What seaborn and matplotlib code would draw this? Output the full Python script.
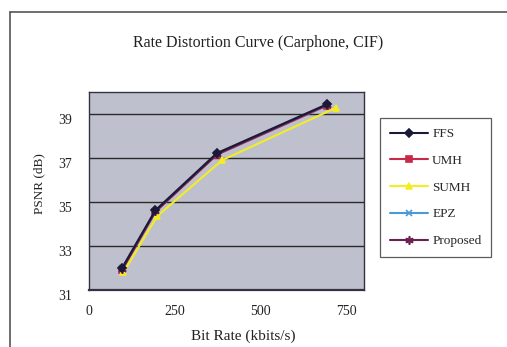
import matplotlib
matplotlib.use("Agg")
import matplotlib.pyplot as plt
from matplotlib.lines import Line2D
import seaborn as sns
import pandas as pd

# Bit rate (kbits/s) and PSNR (dB) per motion-estimation method
ffs_rate = [97, 193, 372, 692]
ffs_psnr = [32.02, 34.62, 37.22, 39.44]
umh_rate = [97, 193, 372, 692]
umh_psnr = [31.92, 34.55, 37.15, 39.38]
sumh_rate = [100, 198, 387, 718]
sumh_psnr = [31.8, 34.35, 36.9, 39.28]
epz_rate = [97, 193, 372, 692]
epz_psnr = [32.0, 34.58, 37.18, 39.4]
prop_rate = [97, 193, 372, 692]
prop_psnr = [31.96, 34.57, 37.17, 39.41]

methods = ["FFS", "UMH", "SUMH", "EPZ", "Proposed"]
x_ticks = [0, 250, 500, 750]
y_ticks = [31, 33, 35, 37, 39]

sns.set_theme(style="white")
plt.rcParams["font.family"] = ["Liberation Serif", "DejaVu Serif"]

fig = plt.figure(figsize=(5.07, 3.47), dpi=100)
fig.patch.set_facecolor("white")
ax = fig.add_axes([89 / 507, 1 - 290 / 347, 275 / 507, 198 / 347])
ax.set_facecolor("#bfc0ce")

series = [
    ("FFS", ffs_rate, ffs_psnr, "#1a1a38", "D", 4),
    ("UMH", umh_rate, umh_psnr, "#c8284a", "s", 4),
    ("SUMH", sumh_rate, sumh_psnr, "#f2ee22", "^", 5),
    ("EPZ", epz_rate, epz_psnr, "#4a9ad8", "x", 5),
    ("Proposed", prop_rate, prop_psnr, "#6a2050", (6, 2, 0), 6),
]

for name, xs, ys, col, mk, ms in series:
    df = pd.DataFrame({"rate": xs, "psnr": ys})
    sns.lineplot(data=df, x="rate", y="psnr", ax=ax, color=col, marker=mk,
                 markersize=ms, markeredgecolor=col, markerfacecolor=col,
                 markeredgewidth=1.2, linewidth=1.5, label=name, sort=False)

# dark reference curve kept visible along the upper edge
ax.lines[0].set_zorder(3)

ax.set_xlim(0, 800)
ax.set_ylim(31, 40)
ax.set_xticks(x_ticks)
ax.set_yticks(y_ticks)
ax.yaxis.grid(True, color="#2a2a2a", linewidth=1.0)
ax.set_axisbelow(True)
for s in ax.spines.values():
    s.set_color("#333344")
    s.set_linewidth(1.0)
ax.spines["bottom"].set_linewidth(1.6)
ax.tick_params(axis="x", direction="in", length=3, color="#333344",
               labelsize=10, pad=11, labelcolor="#222222")
ax.tick_params(axis="y", length=0, labelsize=10, pad=12, labelcolor="#222222")
for lbl in ax.get_yticklabels():
    lbl.set_verticalalignment("top")
ax.set_xlabel("Bit Rate (kbits/s)", fontsize=11, color="#222222")
ax.set_ylabel("PSNR (dB)", fontsize=9.5, color="#222222")
ax.xaxis.set_label_coords((243 - 89) / 275, -(336 - 290) / 198)
ax.yaxis.set_label_coords(-(89 - 39) / 275, (290 - 184) / 198)
ax.xaxis.label.set_va("center")
ax.yaxis.label.set_va("center")
fig.text(258 / 507, 1 - 43 / 347, "Rate Distortion Curve (Carphone, CIF)",
         ha="center", va="center", fontsize=11.5, color="#222222")

ax.get_legend().remove()
handles, labels = ax.get_legend_handles_labels()
leg = fig.legend(handles, labels, loc="upper left",
                 bbox_to_anchor=(380 / 507, 1 - 118 / 347),
                 frameon=True, fancybox=False, fontsize=9.5,
                 handlelength=2.9, labelspacing=1.1, borderpad=0.75,
                 handletextpad=0.3, borderaxespad=0)
leg.get_frame().set_edgecolor("#333333")
leg.get_frame().set_linewidth(0.9)

# outer chart frame
fig.add_artist(Line2D([10 / 507, 10 / 507], [0, 1 - 12 / 347],
                      transform=fig.transFigure, color="#555555", lw=1.2))
fig.add_artist(Line2D([10 / 507, 1], [1 - 12 / 347, 1 - 12 / 347],
                      transform=fig.transFigure, color="#555555", lw=1.2))

fig.savefig("out.png", dpi=100)
